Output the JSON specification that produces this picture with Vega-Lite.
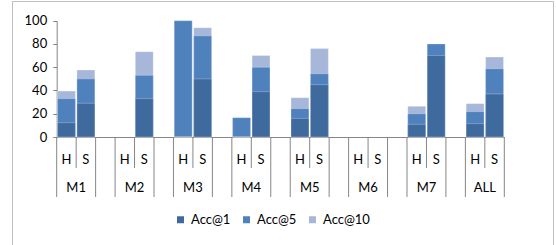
{
  "$schema": "https://vega.github.io/schema/vega-lite/v6.json",
  "width": 541,
  "height": 260,
  "autosize": {"type": "none"},
  "padding": {"left": 12, "top": 1, "right": 3, "bottom": 0},
  "background": "white",
  "config": {
    "view": {"stroke": "#BFBFBF", "strokeWidth": 1},
    "font": "Lato",
    "axis": {"labelFont": "Lato", "labelFontSize": 13, "labelColor": "#000000"},
    "legend": {"labelFont": "Lato"},
    "text": {"font": "Lato"}
  },
  "datasets": {
    "acc": [
      {"slot": "M1-H", "metric": "Acc@10", "value": 39.5},
      {"slot": "M1-H", "metric": "Acc@5", "value": 33},
      {"slot": "M1-H", "metric": "Acc@1", "value": 12.3},
      {"slot": "M1-S", "metric": "Acc@10", "value": 57.6},
      {"slot": "M1-S", "metric": "Acc@5", "value": 50},
      {"slot": "M1-S", "metric": "Acc@1", "value": 29},
      {"slot": "M2-S", "metric": "Acc@10", "value": 73.4},
      {"slot": "M2-S", "metric": "Acc@5", "value": 53},
      {"slot": "M2-S", "metric": "Acc@1", "value": 33},
      {"slot": "M3-H", "metric": "Acc@10", "value": 100},
      {"slot": "M3-H", "metric": "Acc@5", "value": 100},
      {"slot": "M3-H", "metric": "Acc@1", "value": 0},
      {"slot": "M3-S", "metric": "Acc@10", "value": 94},
      {"slot": "M3-S", "metric": "Acc@5", "value": 87},
      {"slot": "M3-S", "metric": "Acc@1", "value": 50},
      {"slot": "M4-H", "metric": "Acc@10", "value": 16.6},
      {"slot": "M4-H", "metric": "Acc@5", "value": 16.6},
      {"slot": "M4-H", "metric": "Acc@1", "value": 0},
      {"slot": "M4-S", "metric": "Acc@10", "value": 70},
      {"slot": "M4-S", "metric": "Acc@5", "value": 60},
      {"slot": "M4-S", "metric": "Acc@1", "value": 39},
      {"slot": "M5-H", "metric": "Acc@10", "value": 33.8},
      {"slot": "M5-H", "metric": "Acc@5", "value": 24.4},
      {"slot": "M5-H", "metric": "Acc@1", "value": 16},
      {"slot": "M5-S", "metric": "Acc@10", "value": 76},
      {"slot": "M5-S", "metric": "Acc@5", "value": 54.4},
      {"slot": "M5-S", "metric": "Acc@1", "value": 45},
      {"slot": "M7-H", "metric": "Acc@10", "value": 26.4},
      {"slot": "M7-H", "metric": "Acc@5", "value": 20},
      {"slot": "M7-H", "metric": "Acc@1", "value": 10.9},
      {"slot": "M7-S", "metric": "Acc@10", "value": 80},
      {"slot": "M7-S", "metric": "Acc@5", "value": 80},
      {"slot": "M7-S", "metric": "Acc@1", "value": 70},
      {"slot": "ALL-H", "metric": "Acc@10", "value": 28.7},
      {"slot": "ALL-H", "metric": "Acc@5", "value": 21.8},
      {"slot": "ALL-H", "metric": "Acc@1", "value": 11.5},
      {"slot": "ALL-S", "metric": "Acc@10", "value": 68.8},
      {"slot": "ALL-S", "metric": "Acc@5", "value": 58.7},
      {"slot": "ALL-S", "metric": "Acc@1", "value": 37}
    ],
    "slots": [
      {"slot": "M1-H", "grp": "M1", "sub": "H"},
      {"slot": "M1-S", "grp": "M1", "sub": "S"},
      {"slot": "G1", "grp": "", "sub": ""},
      {"slot": "M2-H", "grp": "M2", "sub": "H"},
      {"slot": "M2-S", "grp": "M2", "sub": "S"},
      {"slot": "G2", "grp": "", "sub": ""},
      {"slot": "M3-H", "grp": "M3", "sub": "H"},
      {"slot": "M3-S", "grp": "M3", "sub": "S"},
      {"slot": "G3", "grp": "", "sub": ""},
      {"slot": "M4-H", "grp": "M4", "sub": "H"},
      {"slot": "M4-S", "grp": "M4", "sub": "S"},
      {"slot": "G4", "grp": "", "sub": ""},
      {"slot": "M5-H", "grp": "M5", "sub": "H"},
      {"slot": "M5-S", "grp": "M5", "sub": "S"},
      {"slot": "G5", "grp": "", "sub": ""},
      {"slot": "M6-H", "grp": "M6", "sub": "H"},
      {"slot": "M6-S", "grp": "M6", "sub": "S"},
      {"slot": "G6", "grp": "", "sub": ""},
      {"slot": "M7-H", "grp": "M7", "sub": "H"},
      {"slot": "M7-S", "grp": "M7", "sub": "S"},
      {"slot": "G7", "grp": "", "sub": ""},
      {"slot": "ALL-H", "grp": "ALL", "sub": "H"},
      {"slot": "ALL-S", "grp": "ALL", "sub": "S"}
    ]
  },
  "layer": [
    {
      "data": {"name": "acc"},
      "mark": {"type": "bar", "width": {"band": 0.92}, "stroke": "#FFFFFF", "strokeOpacity": 0.35, "strokeWidth": 0.8},
      "encoding": {
        "x": {
          "field": "slot", "type": "nominal", "sort": null,
          "scale": {
            "domain": ["M1-H","M1-S","G1","M2-H","M2-S","G2","M3-H","M3-S","G3","M4-H","M4-S","G4","M5-H","M5-S","G5","M6-H","M6-S","G6","M7-H","M7-S","G7","ALL-H","ALL-S"],
            "range": [44.7, 492.3], "paddingInner": 0, "paddingOuter": 0
          },
          "axis": {
            "title": null, "ticks": false, "tickSize": 0, "domainColor": "#868686",
            "labelPadding": 22, "labelBaseline": "middle", "labelAngle": 0, "offset": -124,
            "labelOverlap": false, "labelBound": false, "labelFontSize": 13,
            "labelExpr": "indexof(datum.value, '-H') > 0 ? 'H' : (indexof(datum.value, '-S') > 0 ? 'S' : '')"
          }
        },
        "y": {
          "field": "value", "type": "quantitative", "stack": null,
          "scale": {"domain": [0, 100], "range": [136, 19.7], "nice": false},
          "axis": {
            "title": null, "values": [0, 20, 40, 60, 80, 100], "grid": false,
            "domainColor": "#868686", "tickColor": "#868686", "tickSize": 4,
            "labelPadding": 6, "offset": -44.7, "labelFontSize": 13
          }
        },
        "color": {
          "field": "metric", "type": "nominal",
          "scale": {"domain": ["Acc@1", "Acc@5", "Acc@10"], "range": ["#3F6A9E", "#4F81BD", "#A7B7DA"]},
          "legend": {
            "orient": "none", "direction": "horizontal", "legendX": 162, "legendY": 212,
            "title": null, "symbolType": "square", "symbolSize": 49, "symbolStrokeWidth": 0,
            "labelFontSize": 13, "labelOffset": 4, "columnPadding": 9, "padding": 0, "labelColor": "#000000"
          }
        }
      }
    },
    {
      "data": {"name": "slots"},
      "transform": [{"filter": "datum.sub == 'S'"}],
      "mark": {"type": "rule", "color": "#868686", "strokeWidth": 1},
      "encoding": {
        "x": {"field": "slot", "type": "nominal", "sort": null, "bandPosition": 0, "title": null},
        "y": {"datum": 0, "type": "quantitative", "title": null},
        "y2": {"datum": -26.7}
      }
    },
    {
      "data": {"name": "slots"},
      "transform": [{"filter": "datum.sub != 'S'"}],
      "mark": {"type": "rule", "color": "#868686", "strokeWidth": 1},
      "encoding": {
        "x": {"field": "slot", "type": "nominal", "sort": null, "bandPosition": 0, "title": null},
        "y": {"datum": 0, "type": "quantitative", "title": null},
        "y2": {"datum": -51.6}
      }
    },
    {
      "data": {"name": "slots"},
      "transform": [{"filter": "datum.slot == 'ALL-S'"}],
      "mark": {"type": "rule", "color": "#868686", "strokeWidth": 1},
      "encoding": {
        "x": {"field": "slot", "type": "nominal", "sort": null, "bandPosition": 1, "title": null},
        "y": {"datum": 0, "type": "quantitative", "title": null},
        "y2": {"datum": -51.6}
      }
    },
    {
      "data": {"name": "slots"},
      "transform": [{"filter": "datum.sub == 'S'"}],
      "mark": {"type": "text", "fontSize": 13, "baseline": "middle", "align": "center", "color": "#000000"},
      "encoding": {
        "x": {"field": "slot", "type": "nominal", "sort": null, "bandPosition": 0, "title": null},
        "y": {"datum": -43.9, "type": "quantitative", "title": null},
        "text": {"field": "grp"}
      }
    }
  ]
}
